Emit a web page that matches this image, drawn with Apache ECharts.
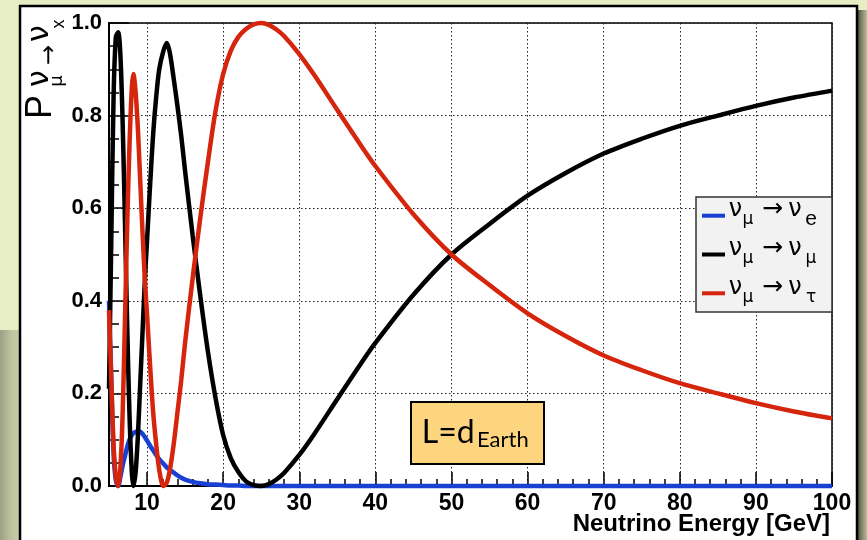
<!DOCTYPE html>
<html>
<head>
<meta charset="utf-8">
<script src="https://cdn.jsdelivr.net/npm/echarts@6/dist/echarts.min.js"></script>
<style>
html, body { margin: 0; padding: 0; background: #e7eec3; }
#chart { width: 867px; height: 540px; }
</style>
</head>
<body>
<div id="chart"></div>
<script>
// neutrino energy [GeV] sampled along the curves
var energy = [5, 5.3, 5.6, 5.9, 6.2, 6.5, 6.8, 7.1, 7.4, 7.7,
    8.0, 8.2, 8.5, 8.8, 9.1, 9.4, 9.7, 10, 10.4, 10.8,
    11.2, 11.6, 12.15, 12.6, 13, 13.5, 14, 14.5, 15, 16,
    17, 18, 19, 20, 21, 22, 23, 24, 25, 26,
    27, 28, 30, 32, 35, 38, 40, 45, 50, 55,
    60, 65, 70, 75, 80, 85, 90, 95, 100];
// P(numu -> nue)
var probE = [0.40, 0.23, 0.07, 0.012, 0.0, 0.02, 0.045, 0.065, 0.085, 0.10,
    0.11, 0.114, 0.117, 0.118, 0.117, 0.113, 0.106, 0.098, 0.087, 0.077,
    0.067, 0.058, 0.048, 0.04, 0.035, 0.029, 0.023, 0.018, 0.014, 0.009,
    0.006, 0.004, 0.003, 0.002, 0.001, 0.001, 0, 0, 0, 0,
    0, 0, 0, 0, 0, 0, 0, 0, 0, 0,
    0, 0, 0, 0, 0, 0, 0, 0, 0];
// P(numu -> numu)
var probMu = [0.21, 0.53, 0.84, 0.97, 0.98, 0.93, 0.78, 0.57, 0.34, 0.15,
    0.03, 0.0, 0.03, 0.11, 0.22, 0.33, 0.44, 0.53, 0.65, 0.76,
    0.84, 0.90, 0.94, 0.957, 0.935, 0.88, 0.82, 0.755, 0.68, 0.54,
    0.41, 0.29, 0.19, 0.11, 0.06, 0.03, 0.01, 0.002, 0, 0.004,
    0.014, 0.028, 0.067, 0.113, 0.188, 0.262, 0.309, 0.413, 0.5, 0.566,
    0.627, 0.676, 0.718, 0.75, 0.778, 0.80, 0.821, 0.839, 0.854];
// P(numu -> nutau)
var probTau = [0.38, 0.23, 0.09, 0.02, 0.0, 0.04, 0.16, 0.36, 0.57, 0.74,
    0.86, 0.89, 0.85, 0.77, 0.66, 0.55, 0.45, 0.37, 0.26, 0.16,
    0.09, 0.035, 0.0, 0.008, 0.035, 0.09, 0.16, 0.23, 0.31, 0.45,
    0.58, 0.70, 0.81, 0.89, 0.94, 0.97, 0.987, 0.997, 1.0, 0.996,
    0.986, 0.972, 0.933, 0.887, 0.812, 0.738, 0.691, 0.587, 0.5, 0.434,
    0.373, 0.324, 0.282, 0.25, 0.222, 0.20, 0.179, 0.161, 0.146];

var xTicks = [10, 20, 30, 40, 50, 60, 70, 80, 90, 100];
var xMinorTicks = [6, 8, 12, 14, 16, 18, 22, 24, 26, 28, 32, 34, 36, 38, 42, 44, 46, 48,
    52, 54, 56, 58, 62, 64, 66, 68, 72, 74, 76, 78, 82, 84, 86, 88, 92, 94, 96, 98];

var legendSubs = ['e', 'μ', 'τ'];
var colors = ['#1840d2', '#000000', '#d6250d'];

function pairs(ys) {
    return energy.map(function (e, i) { return [e, ys[i]]; });
}

var FONT = 'Liberation Sans';
var GREEK = 'DejaVu Sans';

function txt(text, x, y, size, family, opts) {
    opts = opts || {};
    return {
        type: 'text', x: x, y: y, z: 100,
        style: {
            text: text, fontSize: size, fontFamily: family,
            fontWeight: opts.weight || 'normal',
            fill: '#000', align: opts.align || 'center', verticalAlign: 'middle'
        }
    };
}

// legend rows
var legendEls = [{
    type: 'rect', z: 99,
    shape: { x: 696, y: 197, width: 136, height: 115 },
    style: { fill: '#f2f2f2', stroke: '#333', lineWidth: 1.5 }
}];
legendSubs.forEach(function (sub, i) {
    var cy = 215.7 + i * 38.8;
    legendEls.push({
        type: 'line', z: 100,
        shape: { x1: 702, y1: cy, x2: 725, y2: cy },
        style: { stroke: colors[i], lineWidth: 4 }
    });
    legendEls.push(txt('ν', 735.5, cy - 6, 24, GREEK));
    legendEls.push(txt('μ', 748, cy + 4, 17, GREEK));
    legendEls.push(txt('→', 772.5, cy - 6, 25, GREEK));
    legendEls.push(txt('ν', 795, cy - 6, 24, GREEK));
    legendEls.push(txt(sub, 811, cy + 4, sub === 'e' ? 21 : 17, sub === 'e' ? FONT : GREEK));
});

var chart = echarts.init(document.getElementById('chart'));
chart.setOption({
    animation: false,
    backgroundColor: '#e7eec3',
    grid: {
        left: 109, right: 35, top: 23, bottom: 54,
        show: true, backgroundColor: '#fff', borderColor: '#000', borderWidth: 1.5,
        outerBoundsMode: 'none'
    },
    xAxis: [{
        type: 'value', min: 5, max: 100, position: 'bottom',
        axisLine: { show: true, onZero: false, lineStyle: { color: '#000', width: 2 } },
        axisTick: { show: true, inside: true, length: 14, customValues: xTicks,
            lineStyle: { color: '#000', width: 1.5 } },
        axisLabel: { customValues: xTicks, fontSize: 23, fontWeight: 'bold', color: '#000',
            fontFamily: FONT, margin: 6 },
        splitLine: { show: true, lineStyle: { color: '#222', width: 1, type: [1.5, 2.5] } }
    }, {
        type: 'value', min: 5, max: 100, position: 'bottom',
        axisLine: { show: false },
        axisTick: { show: true, inside: true, length: 7, customValues: xMinorTicks,
            lineStyle: { color: '#000', width: 1.5 } },
        axisLabel: { show: false },
        splitLine: { show: false }
    }],
    yAxis: {
        type: 'value', min: 0, max: 1, interval: 0.2,
        axisLine: { show: true, lineStyle: { color: '#000', width: 2 } },
        axisTick: { show: true, inside: true, length: 20, lineStyle: { color: '#000', width: 1.5 } },
        minorTick: { show: true, splitNumber: 4, length: 10, lineStyle: { color: '#000', width: 1.5 } },
        axisLabel: {
            formatter: function (v) { return v.toFixed(1); },
            fontSize: 22, fontWeight: 'bold', color: '#000', fontFamily: FONT, margin: 7
        },
        splitLine: { show: true, lineStyle: { color: '#222', width: 1, type: [1.5, 2.5] } }
    },
    series: [probE, probMu, probTau].map(function (ys, i) {
        return {
            type: 'line', data: pairs(ys), showSymbol: false, smooth: 0.3, clip: false,
            z: 2 + i, lineStyle: { color: colors[i], width: 4.5 }, itemStyle: { color: colors[i] }
        };
    }),
    graphic: [
        // page background + white panel
        { type: 'rect', z: -100, shape: { x: 0, y: 330, width: 20, height: 210 },
            style: { fill: new echarts.graphic.LinearGradient(0, 0, 1, 0, [
                { offset: 0, color: '#9da186' }, { offset: 0.6, color: '#c0c5a0' }, { offset: 1, color: '#c8cda9' }]) } },
        { type: 'rect', z: -100, shape: { x: 858, y: 10, width: 9, height: 530 },
            style: { fill: new echarts.graphic.LinearGradient(0, 0, 1, 0, [
                { offset: 0, color: '#4f5240' }, { offset: 0.5, color: '#8a8e70' }, { offset: 1, color: '#b9bd9a' }]) } },
        { type: 'rect', z: -90, shape: { x: 20, y: 6, width: 837, height: 600 },
            style: { fill: '#fff', stroke: '#000', lineWidth: 2.5 } },
        // y axis title P_{numu -> nux}
        { type: 'group', x: 0, y: 0, rotation: Math.PI / 2, children: [
            txt('P', -107, 41, 36, FONT),
            txt('ν', -78.5, 40, 30, GREEK),
            txt('μ', -81, 57, 18, GREEK),
            txt('→', -55, 50, 24, GREEK),
            txt('ν', -33.5, 40, 30, GREEK),
            txt('x', -24, 59, 18, FONT)
        ] },
        // x axis title
        txt('Neutrino Energy [GeV]', 830, 524, 24, FONT, { align: 'right', weight: 'bold' }),
        // L = d_Earth box
        { type: 'rect', z: 99, shape: { x: 411, y: 402, width: 133, height: 62 },
            style: { fill: '#fdd57e', stroke: '#000', lineWidth: 2 } },
        txt('L=d', 421.7, 433, 32, 'Lato', { align: 'left' }),
        txt('Earth', 477, 440, 22, 'Lato', { align: 'left' })
    ].concat(legendEls)
});
</script>
</body>
</html>
